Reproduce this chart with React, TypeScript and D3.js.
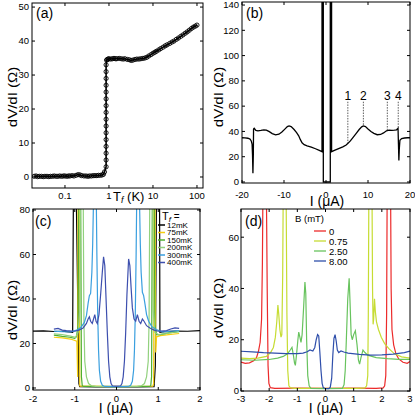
import React from 'react';
import * as d3 from 'd3';

type Pt = [number, number];

const FONT = '"Liberation Sans", Arial, Helvetica, sans-serif';

// (a) dV/dI vs fridge temperature, three stretches of the sweep
const aLow: Pt[] = [
  [0.02, 0.2], [0.022, 0.3], [0.024, 0.1], [0.026, 0.2], [0.029, 0.2], [0.032, 0.1], [0.035, 0.2],
  [0.039, 0.2], [0.043, 0.1], [0.047, 0.2], [0.052, 0.2], [0.057, 0.3], [0.063, 0.2], [0.069, 0.2],
  [0.076, 0.3], [0.084, 0.2], [0.092, 0.3], [0.1, 0.3], [0.11, 0.2], [0.12, 0.3], [0.13, 0.3],
  [0.145, 0.4], [0.16, 0.3], [0.18, 0.5], [0.2, 0.7], [0.22, 0.6], [0.24, 0.4], [0.27, 0.3],
  [0.3, 0.3], [0.33, 0.2], [0.36, 0.3], [0.4, 0.3], [0.44, 0.4], [0.48, 0.4], [0.53, 0.4],
  [0.58, 0.5], [0.64, 0.5], [0.7, 0.6], [0.75, 0.8], [0.79, 1.5],
];
const aJump: Pt[] = [
  [0.86, 3], [0.86, 5], [0.86, 7], [0.86, 9], [0.86, 11], [0.86, 13], [0.86, 15], [0.86, 17],
  [0.86, 19], [0.86, 21], [0.86, 23], [0.86, 25], [0.86, 27], [0.86, 29], [0.86, 31], [0.86, 33],
];
const aHigh: Pt[] = [
  [0.88, 34.4], [0.92, 34.6], [0.96, 34.7], [1.0, 34.8], [1.1, 34.7], [1.2, 34.8], [1.3, 34.9],
  [1.4, 34.8], [1.5, 34.8], [1.7, 34.9], [1.9, 34.8], [2.1, 34.7], [2.3, 34.8], [2.6, 34.6],
  [2.9, 34.5], [3.2, 34.3], [3.5, 34.4], [3.9, 34.6], [4.3, 34.7], [4.8, 34.7], [5.3, 34.8],
  [5.9, 34.9], [6.5, 35.0], [7.2, 35.2], [8.0, 35.6], [9.0, 36.0], [10, 36.4], [11, 36.7],
  [12, 37.0], [13.5, 37.4], [15, 37.8], [17, 38.2], [19, 38.6], [21, 38.9], [24, 39.3],
  [27, 39.7], [30, 40.0], [34, 40.5], [38, 40.9], [43, 41.4], [48, 41.8], [54, 42.3],
  [60, 42.7], [67, 43.2], [75, 43.7], [83, 44.1], [92, 44.4], [100, 44.7],
];
const aXTicks = [0.1, 1, 10, 100];
const aXTickLabels = ['0.1', '1', '10', '100'];
const aYTicks = [0, 10, 20, 30, 40, 50];

// (b) dV/dI vs bias current at base temperature
const bCurve: Pt[] = [
  [-20, 35], [-19.3, 34.9], [-18.6, 34.6], [-18.1, 34], [-17.8, 32.5], [-17.6, 30], [-17.5, 22],
  [-17.4, 7], [-17.3, 22], [-17.25, 42], [-17.1, 42.5], [-16.7, 40.8], [-16.2, 40.5], [-15.5, 40.8],
  [-14.8, 41.2], [-14.2, 41], [-13.5, 39.8], [-12.8, 38.3], [-12, 37.3], [-11.2, 37.8], [-10.5, 39.5],
  [-9.8, 41.8], [-9.2, 43.8], [-8.8, 44.4], [-8.3, 43.8], [-7.6, 41.5], [-7, 39], [-6.5, 36.5],
  [-6.1, 33.5], [-5.7, 31], [-5.2, 29.5], [-4.5, 28.6], [-3.5, 27.5], [-2.5, 26.3], [-1.6, 25],
  [-0.95, 24], [-0.95, 150], [-0.64, 150], [-0.64, 0], [1.02, 0], [1.02, 150], [1.33, 150],
  [1.33, 24], [2, 25], [3, 26.4], [4, 27.8], [4.8, 29.3], [5.3, 30.8], [5.8, 32.5], [6.5, 35.5],
  [7.2, 38.5], [7.9, 41.5], [8.5, 43.6], [8.9, 44.3], [9.4, 43.8], [10, 42], [10.7, 40],
  [11.4, 38.5], [12.2, 37.4], [13, 37.6], [13.7, 38.8], [14.4, 40.5], [15, 41], [15.7, 40.8],
  [16.3, 41], [16.8, 41.3], [17.15, 42.5], [17.25, 30], [17.35, 17], [17.45, 26], [17.6, 33],
  [18, 34.3], [18.7, 34.8], [19.4, 35], [20, 35],
];
const bMarkI = [5.2, 8.9, 14.6, 17.2];
const bMarkR = [30.8, 44.3, 40.8, 42.5];
const bMarkLabels = ['1', '2', '3', '4'];
const bMarkTop = 63.5;
const bXTicks = [-20, -10, 0, 10, 20];
const bYTicks = [0, 20, 40, 60, 80, 100, 120, 140];

// (c) dV/dI vs current at several fridge temperatures
const c12mK: Pt[] = [
  [-2, 25.6], [-1.75, 25.7], [-1.5, 25.4], [-1.3, 25.5], [-1.15, 25.2], [-1.05, 25], [-1.03, 95],
  [-0.97, 95], [-0.9, 2], [-0.88, 0.6], [-0.5, 0.5], [0, 0.5], [0.5, 0.5], [0.9, 0.6], [0.93, 10],
  [0.96, 95], [1.03, 95], [1.04, 25], [1.15, 25.3], [1.4, 25.6], [1.7, 25.5], [2, 25.8],
];
const c75mK: Pt[] = [
  [-1.5, 22.8], [-1.3, 22.5], [-1.1, 22], [-0.95, 21], [-0.93, 5], [-0.92, 95], [-0.9, 95],
  [-0.88, 1], [-0.86, 0.8], [0, 0.7], [0.87, 0.8], [0.89, 2], [0.9, 95], [0.92, 95], [0.94, 16],
  [0.96, 23], [1.05, 23.5], [1.25, 24], [1.5, 24.5],
];
const c150mK: Pt[] = [
  [-1.5, 23.8], [-1.3, 23.2], [-1.12, 22.8], [-1.0, 22.3], [-0.96, 23], [-0.92, 28], [-0.9, 95],
  [-0.86, 95], [-0.84, 5], [-0.82, 1], [-0.78, 0.7], [0, 0.6], [0.78, 0.7], [0.82, 1], [0.84, 5],
  [0.86, 95], [0.9, 95], [0.92, 28], [0.96, 24], [1.05, 24], [1.25, 24.8], [1.5, 25.3],
];
const c200mK: Pt[] = [
  [-1.5, 24.3], [-1.3, 24], [-1.1, 23.3], [-0.98, 22.8], [-0.92, 25], [-0.88, 35], [-0.86, 95],
  [-0.8, 95], [-0.78, 30], [-0.76, 12], [-0.72, 5], [-0.67, 2], [-0.6, 1], [-0.5, 0.7], [0, 0.6],
  [0.5, 0.7], [0.6, 1], [0.67, 2], [0.72, 5], [0.76, 12], [0.78, 30], [0.8, 95], [0.86, 95],
  [0.88, 35], [0.92, 25], [1.0, 24], [1.2, 24.5], [1.5, 25.5],
];
const c300mK: Pt[] = [
  [-1.5, 25.6], [-1.3, 25.3], [-1.1, 25.2], [-0.95, 26], [-0.85, 27.3], [-0.77, 29.5], [-0.72, 32.5],
  [-0.68, 38], [-0.65, 41.5], [-0.62, 42.5], [-0.59, 52], [-0.57, 65], [-0.55, 85], [-0.54, 95],
  [-0.49, 95], [-0.47, 60], [-0.45, 33], [-0.43, 17], [-0.41, 8], [-0.38, 3], [-0.34, 1.2],
  [-0.28, 0.7], [0, 0.6], [0.28, 0.7], [0.34, 1.2], [0.38, 3], [0.41, 8], [0.43, 17], [0.45, 33],
  [0.47, 60], [0.49, 95], [0.54, 95], [0.55, 85], [0.57, 65], [0.59, 52], [0.62, 43], [0.65, 41.5],
  [0.68, 38], [0.72, 33], [0.77, 30], [0.85, 27.5], [0.95, 26.3], [1.1, 25.2], [1.3, 25.5], [1.5, 25.8],
];
const c400mK: Pt[] = [
  [-1.5, 26.5], [-1.4, 26.8], [-1.3, 26], [-1.2, 25.8], [-1.0, 25.5], [-0.9, 26], [-0.8, 27],
  [-0.72, 29], [-0.68, 31], [-0.65, 32], [-0.62, 30], [-0.58, 29], [-0.55, 31], [-0.52, 33],
  [-0.49, 30], [-0.46, 29], [-0.42, 33], [-0.38, 42], [-0.34, 52], [-0.31, 59], [-0.28, 55],
  [-0.25, 40], [-0.22, 25], [-0.19, 12], [-0.16, 5], [-0.13, 2], [-0.1, 1], [0, 0.8], [0.1, 1],
  [0.13, 2], [0.16, 5], [0.19, 12], [0.22, 25], [0.25, 42], [0.29, 58], [0.32, 55], [0.35, 45],
  [0.38, 36], [0.42, 31], [0.46, 30], [0.5, 33], [0.54, 30], [0.58, 29], [0.62, 31], [0.66, 30],
  [0.72, 28], [0.8, 27], [0.9, 26], [1.0, 25.5], [1.2, 25.8], [1.3, 26.5], [1.4, 27], [1.5, 26.8],
];
const cNames = ['12mK', '75mK', '150mK', '200mK', '300mK', '400mK'];
const cCurves = [c12mK, c75mK, c150mK, c200mK, c300mK, c400mK];
const cColors = ['#000000', '#f5cf12', '#4fb030', '#92d17e', '#3a9fdf', '#3d4fae'];
const cXTicks = [-2, -1, 0, 1, 2];
const cYTicks = [0, 20, 40, 60, 80];

// (d) dV/dI vs current at several magnetic fields
const dB0: Pt[] = [
  [-3, 11.3], [-2.85, 10.8], [-2.7, 11], [-2.55, 11.8], [-2.45, 13], [-2.38, 15.5], [-2.32, 19],
  [-2.27, 28], [-2.24, 50], [-2.22, 80], [-2.1, 80], [-2.07, 40], [-2.04, 10], [-2.01, 3],
  [-1.96, 1.3], [-1.8, 1], [-1, 1.1], [0, 1], [1, 1.1], [1.8, 1], [2.05, 1.2], [2.1, 2], [2.14, 6],
  [2.17, 30], [2.19, 80], [2.31, 80], [2.33, 40], [2.36, 24], [2.42, 18], [2.5, 14.5], [2.6, 12.5],
  [2.75, 11.2], [2.9, 10.8], [3, 11.5],
];
const dB075: Pt[] = [
  [-3, 12.8], [-2.7, 12.6], [-2.4, 12.8], [-2.1, 13.5], [-1.95, 15], [-1.85, 17], [-1.78, 21],
  [-1.73, 27], [-1.69, 33.5], [-1.66, 30], [-1.62, 24], [-1.58, 21], [-1.55, 22], [-1.52, 45],
  [-1.5, 80], [-1.4, 80], [-1.37, 30], [-1.34, 8], [-1.3, 2], [-1.25, 1.3], [-1.1, 1], [0, 1],
  [1.1, 1], [1.4, 1.2], [1.46, 2], [1.5, 6], [1.52, 30], [1.54, 80], [1.65, 80], [1.67, 40],
  [1.69, 26], [1.71, 28], [1.74, 36], [1.77, 31], [1.81, 27], [1.88, 24], [1.98, 21], [2.1, 18.5],
  [2.25, 16.5], [2.45, 14.5], [2.7, 13.3], [3, 12.8],
];
const dB250: Pt[] = [
  [-3, 12.2], [-2.5, 12], [-2, 12.3], [-1.7, 12.8], [-1.5, 13.5], [-1.35, 14.5], [-1.25, 16],
  [-1.19, 17], [-1.14, 14], [-1.1, 11], [-1.07, 10], [-1.03, 14], [-0.98, 20], [-0.95, 23],
  [-0.91, 21], [-0.87, 19], [-0.83, 22], [-0.78, 32], [-0.73, 42.5], [-0.7, 38], [-0.67, 20],
  [-0.63, 6], [-0.58, 2], [-0.52, 1], [0, 0.9], [0.6, 1], [0.66, 2.5], [0.7, 8], [0.74, 20],
  [0.79, 36], [0.84, 44], [0.87, 35], [0.91, 22], [0.95, 20], [1.0, 22], [1.06, 23.5], [1.12, 18],
  [1.17, 12], [1.21, 10.5], [1.26, 13], [1.33, 16], [1.4, 15], [1.5, 14], [1.8, 13], [2.2, 12.6],
  [2.6, 12.3], [3, 12.3],
];
const dB800: Pt[] = [
  [-3, 15.5], [-2.6, 15.3], [-2.2, 15], [-1.8, 14.8], [-1.4, 14.6], [-1.0, 14.6], [-0.8, 14.8],
  [-0.65, 15.3], [-0.55, 16], [-0.45, 15.6], [-0.38, 17], [-0.33, 20], [-0.28, 22], [-0.24, 21.5],
  [-0.2, 15], [-0.16, 8], [-0.12, 3], [-0.08, 1.3], [0, 0.9], [0.12, 0.9], [0.17, 1.5], [0.22, 5],
  [0.26, 14], [0.3, 20.5], [0.34, 22], [0.38, 19.5], [0.42, 16], [0.47, 15], [0.55, 15.6],
  [0.65, 15.2], [0.8, 14.8], [1.2, 14.3], [1.6, 14], [2.0, 14.1], [2.4, 14.4], [2.8, 15], [3, 15.6],
];
const dNames = ['0', '0.75', '2.50', '8.00'];
const dCurves = [dB0, dB075, dB250, dB800];
const dColors = ['#ec2b2b', '#c6dc33', '#68c35e', '#2f4fab'];
const dXTicks = [-3, -2, -1, 0, 1, 2, 3];
const dYTicks = [0, 20, 40, 60];

const ax = d3.scaleLog().domain([0.0178, 137]).range([32, 203]);
const ay = d3.scaleLinear().domain([-3.24, 51.2]).range([188, 3]);
const bx = d3.scaleLinear().domain([-20, 20]).range([242, 410]);
const by = d3.scaleLinear().domain([-0.8, 142.4]).range([183, 2]);
const cx = d3.scaleLinear().domain([-2, 2]).range([33, 200]);
const cy = d3.scaleLinear().domain([-0.9, 80.45]).range([390, 209]);
const dx = d3.scaleLinear().domain([-3, 3]).range([241, 410]);
const dy = d3.scaleLinear().domain([0, 71]).range([391, 209]);

const TICK = 3;

function Axes({ sx, sy, xTicks, yTicks, xLabels, yLabels, xBase, yEnd }: any) {
  const [x0, x1] = sx.range();
  const [yb, yt] = sy.range();
  return (
    <g fontFamily={FONT} fontSize={9.5} fill="#000">
      <rect x={x0} y={yt} width={x1 - x0} height={yb - yt} fill="none" stroke="#000" strokeWidth={1} />
      {xTicks.map((t: number, i: number) => (
        <g key={'x' + i}>
          <line x1={sx(t)} x2={sx(t)} y1={yb} y2={yb - TICK} stroke="#000" />
          <line x1={sx(t)} x2={sx(t)} y1={yt} y2={yt + TICK} stroke="#000" />
          <text x={sx(t)} y={xBase} textAnchor="middle">{xLabels[i]}</text>
        </g>
      ))}
      {yTicks.map((t: number, i: number) => (
        <g key={'y' + i}>
          <line x1={x0} x2={x0 + TICK} y1={sy(t)} y2={sy(t)} stroke="#000" />
          <line x1={x1} x2={x1 - TICK} y1={sy(t)} y2={sy(t)} stroke="#000" />
          <text x={yEnd} y={sy(t)} dy="0.35em" textAnchor="end">{yLabels[i]}</text>
        </g>
      ))}
    </g>
  );
}

function YTitle({ x, y }: { x: number; y: number }) {
  return (
    <text transform={`translate(${x},${y}) rotate(-90) scale(1.2,1)`} textAnchor="middle"
      fontFamily={FONT} fontSize={12.5}>dV/dI (Ω)</text>
  );
}

function clipRect(id: string, sx: any, sy: any) {
  const [x0, x1] = sx.range();
  const [yb, yt] = sy.range();
  return (
    <clipPath id={id}>
      <rect x={x0} y={yt} width={x1 - x0} height={yb - yt} />
    </clipPath>
  );
}

export default function App() {
  const lineA = d3.line<Pt>().x(d => ax(d[0])).y(d => ay(d[1]));
  const lineB = d3.line<Pt>().x(d => bx(d[0])).y(d => by(d[1]));
  const lineC = d3.line<Pt>().x(d => cx(d[0])).y(d => cy(d[1]));
  const lineD = d3.line<Pt>().x(d => dx(d[0])).y(d => dy(d[1]));
  const aAll = [...aLow, ...aJump, ...aHigh];
  const fmt = (v: number) => String(v);

  return (
    <svg width={415} height={415} style={{ position: 'absolute', left: 0, top: 0, background: '#fff' }}>
      <defs>
        {clipRect('clipA', ax, ay)}
        {clipRect('clipB', bx, by)}
        {clipRect('clipC', cx, cy)}
        {clipRect('clipD', dx, dy)}
      </defs>

      {/* (a) */}
      <g clipPath="url(#clipA)">
        <path d={lineA(aAll) || ''} fill="none" stroke="#000" strokeWidth={1.6} />
        {aAll.map((d, i) => (
          <circle key={i} cx={ax(d[0])} cy={ay(d[1])} r={2.1} fill="none" stroke="#000" strokeWidth={0.9} />
        ))}
      </g>
      <Axes sx={ax} sy={ay} xTicks={aXTicks} yTicks={aYTicks} xLabels={aXTickLabels}
        yLabels={aYTicks.map(fmt)} xBase={199} yEnd={29} />
      <text x={113} y={201} fontFamily={FONT} fontSize={13}>
        T<tspan fontSize={9} dy={2} fontStyle="italic">f</tspan><tspan dy={-2}> (K)</tspan>
      </text>
      <YTitle x={17} y={97} />
      <text x={36} y={18} fontFamily={FONT} fontSize={14}>(a)</text>

      {/* (b) */}
      <g clipPath="url(#clipB)">
        <path d={lineB(bCurve) || ''} fill="none" stroke="#000" strokeWidth={1.3} />
      </g>
      {bMarkI.map((v, i) => (
        <g key={i}>
          <line x1={bx(v)} x2={bx(v)} y1={by(bMarkTop)} y2={by(bMarkR[i])} stroke="#333"
            strokeWidth={0.8} strokeDasharray="1.5,1.2" />
          <text x={bx(v)} y={by(bMarkTop) - 1.5} textAnchor="middle" fontFamily={FONT} fontSize={12}>
            {bMarkLabels[i]}
          </text>
        </g>
      ))}
      <Axes sx={bx} sy={by} xTicks={bXTicks} yTicks={bYTicks} xLabels={bXTicks.map(fmt)}
        yLabels={bYTicks.map(fmt)} xBase={198} yEnd={239} />
      <text x={327} y={206} textAnchor="middle" fontFamily={FONT} fontSize={14}>I (μA)</text>
      <YTitle x={223} y={97} />
      <text x={246} y={18} fontFamily={FONT} fontSize={14}>(b)</text>

      {/* (c) */}
      <g clipPath="url(#clipC)">
        {cCurves.map((c, i) => (
          <path key={i} d={lineC(c) || ''} fill="none" stroke={cColors[i]} strokeWidth={1.2} />
        ))}
      </g>
      <Axes sx={cx} sy={cy} xTicks={cXTicks} yTicks={cYTicks} xLabels={cXTicks.map(fmt)}
        yLabels={cYTicks.map(fmt)} xBase={402} yEnd={30} />
      <text x={116} y={412.5} textAnchor="middle" fontFamily={FONT} fontSize={14}>I (μA)</text>
      <YTitle x={17} y={310} />
      <text x={35} y={226} fontFamily={FONT} fontSize={14}>(c)</text>
      <g fontFamily={FONT}>
        <text x={162} y={220} fontSize={11}>
          T<tspan fontSize={8} dy={2} fontStyle="italic">f</tspan><tspan dy={-2} fontSize={10}> =</tspan>
        </text>
        {cNames.map((n, i) => (
          <g key={n}>
            <line x1={158} x2={165} y1={225 + i * 7.5} y2={225 + i * 7.5} stroke={cColors[i]} strokeWidth={1.5} />
            <text x={167} y={227.8 + i * 7.5} fontSize={8}>{n}</text>
          </g>
        ))}
      </g>

      {/* (d) */}
      <g clipPath="url(#clipD)">
        {dCurves.map((c, i) => (
          <path key={i} d={lineD(c) || ''} fill="none" stroke={dColors[i]} strokeWidth={1.2} />
        ))}
      </g>
      <Axes sx={dx} sy={dy} xTicks={dXTicks} yTicks={dYTicks} xLabels={dXTicks.map(fmt)}
        yLabels={dYTicks.map(fmt)} xBase={402} yEnd={239} />
      <text x={326} y={412.5} textAnchor="middle" fontFamily={FONT} fontSize={14}>I (μA)</text>
      <YTitle x={223} y={308} />
      <text x={245} y={226} fontFamily={FONT} fontSize={14}>(d)</text>
      <g fontFamily={FONT} fontSize={9.5}>
        <text x={295} y={222}>B (mT)</text>
        {dNames.map((n, i) => (
          <g key={n}>
            <line x1={314} x2={326} y1={231 + i * 10} y2={231 + i * 10} stroke={dColors[i]} strokeWidth={1.3} />
            <text x={329} y={234.5 + i * 10}>{n}</text>
          </g>
        ))}
      </g>
    </svg>
  );
}
